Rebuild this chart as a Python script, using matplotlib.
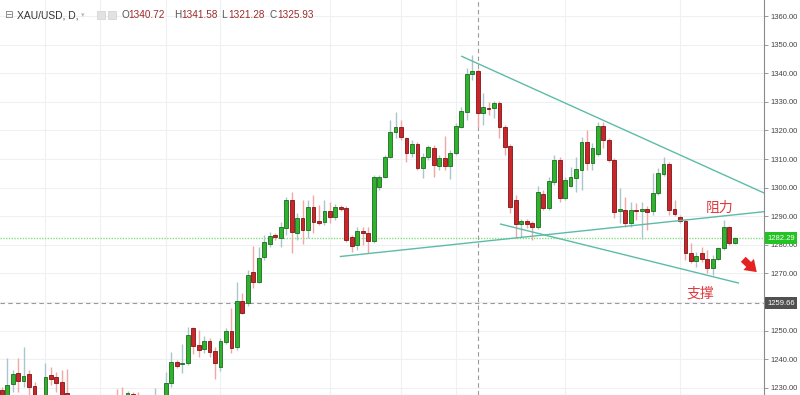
import numpy as np
import matplotlib.pyplot as plt
from matplotlib.patches import Rectangle

plt.rcParams['font.family'] = ['Liberation Sans', 'DejaVu Sans']

# daily XAU/USD bars (left part below 1228 is off-screen)
opens = [1229.2, 1225.7, 1231.3, 1235.2, 1232.4, 1234.8, 1230.6, 1224.0, 1225.7, 1234.5,
         1233.8, 1232.0, 1228.2, 1225.0, 1221.0, 1224.0, 1220.5, 1218.0, 1221.5, 1224.5,
         1222.0, 1226.5, 1226.8, 1223.5, 1227.8, 1226.0, 1222.5, 1224.5, 1221.5, 1226.0,
         1226.4, 1231.7, 1239.0, 1238.2, 1238.7, 1250.9, 1245.0, 1243.6, 1246.4, 1242.9,
         1237.3, 1246.0, 1249.9, 1244.3, 1260.3, 1259.6, 1270.5, 1267.0, 1275.7, 1280.3,
         1283.4, 1282.4, 1285.9, 1295.7, 1284.1, 1289.4, 1285.2, 1293.2, 1288.3, 1288.0,
         1291.8, 1289.7, 1293.2, 1292.9, 1282.7, 1279.9, 1284.8, 1284.1, 1281.3, 1300.2,
         1303.7, 1310.7, 1319.4, 1321.2, 1317.3, 1312.1, 1315.2, 1306.9, 1310.7, 1313.8,
         1307.5, 1310.3, 1307.5, 1312.1, 1321.2, 1326.4, 1339.7, 1340.72, 1326.1, 1327.8,
         1327.8, 1329.6, 1321.2, 1314.5, 1295.7, 1287.3, 1288.3, 1287.6, 1286.2, 1297.8,
         1292.9, 1302.0, 1309.6, 1296.4, 1300.6, 1303.4, 1306.2, 1316.0, 1308.6, 1311.7,
         1321.5, 1316.6, 1309.6, 1291.8, 1292.2, 1287.6, 1292.2, 1291.8, 1292.5, 1291.8,
         1298.1, 1304.8, 1308.2, 1292.5, 1289.7, 1288.3, 1277.1, 1274.3, 1277.1, 1275.0,
         1271.9, 1275.0, 1278.9, 1286.2, 1280.6]
highs = [1230.3, 1240.4, 1236.2, 1240.4, 1244.3, 1236.2, 1232.0, 1227.1, 1238.7, 1237.3,
         1235.5, 1236.2, 1236.6, 1226.5, 1225.5, 1226.0, 1224.0, 1223.0, 1226.0, 1226.5,
         1226.0, 1229.6, 1230.3, 1229.0, 1228.5, 1228.5, 1226.0, 1226.5, 1229.9, 1227.0,
         1235.5, 1242.5, 1239.7, 1245.3, 1251.3, 1251.3, 1250.2, 1248.1, 1247.4, 1244.3,
         1247.4, 1250.9, 1257.9, 1267.0, 1263.1, 1271.2, 1279.6, 1279.2, 1283.4, 1284.5,
         1284.1, 1288.0, 1296.7, 1298.5, 1291.1, 1295.7, 1295.7, 1297.4, 1293.9, 1295.7,
         1295.0, 1294.3, 1293.9, 1293.6, 1283.4, 1286.2, 1286.2, 1286.2, 1304.4, 1304.4,
         1311.4, 1323.6, 1326.4, 1323.6, 1317.7, 1316.6, 1315.9, 1312.1, 1314.9, 1314.9,
         1311.4, 1318.0, 1313.1, 1322.6, 1328.2, 1341.8, 1346.4, 1341.58, 1333.1, 1329.9,
         1330.3, 1330.3, 1321.9, 1315.2, 1297.4, 1289.0, 1289.0, 1288.3, 1300.6, 1299.2,
         1303.7, 1311.4, 1310.7, 1303.7, 1307.2, 1310.7, 1317.7, 1320.1, 1315.6, 1322.9,
         1322.9, 1317.3, 1310.3, 1299.9, 1296.7, 1295.0, 1294.6, 1295.0, 1293.6, 1305.1,
         1306.9, 1310.7, 1309.0, 1295.7, 1290.4, 1289.0, 1280.6, 1277.5, 1279.2, 1278.2,
         1276.4, 1279.2, 1288.7, 1286.6, 1282.7]
lows = [1224.0, 1224.0, 1228.5, 1228.5, 1230.3, 1227.5, 1224.0, 1222.2, 1224.0, 1231.0,
        1228.5, 1225.0, 1222.2, 1219.5, 1218.0, 1219.0, 1216.5, 1215.0, 1219.0, 1220.0,
        1219.5, 1221.0, 1220.0, 1221.5, 1221.0, 1220.0, 1219.0, 1220.5, 1219.0, 1221.0,
        1222.0, 1230.3, 1236.9, 1235.2, 1238.0, 1241.8, 1240.8, 1242.2, 1240.8, 1233.1,
        1235.9, 1245.3, 1242.2, 1243.2, 1255.8, 1258.6, 1264.9, 1266.6, 1274.7, 1279.2,
        1281.7, 1279.2, 1283.4, 1277.1, 1281.7, 1280.3, 1282.4, 1284.1, 1286.9, 1286.9,
        1287.6, 1288.7, 1291.8, 1281.0, 1277.5, 1278.2, 1279.9, 1277.1, 1280.6, 1299.2,
        1303.4, 1310.3, 1317.3, 1316.6, 1309.0, 1310.7, 1306.2, 1303.4, 1309.6, 1303.7,
        1306.2, 1306.2, 1303.0, 1311.4, 1320.8, 1323.6, 1337.6, 1321.28, 1321.9, 1325.4,
        1324.3, 1317.3, 1311.4, 1291.1, 1282.4, 1282.7, 1285.9, 1281.7, 1285.5, 1292.2,
        1292.2, 1300.9, 1295.0, 1295.7, 1300.2, 1298.5, 1299.2, 1306.2, 1306.2, 1311.0,
        1313.8, 1309.0, 1289.4, 1287.6, 1286.2, 1286.2, 1288.7, 1282.0, 1285.2, 1290.4,
        1297.4, 1304.1, 1290.4, 1290.1, 1287.6, 1274.7, 1273.6, 1272.2, 1274.0, 1270.1,
        1269.4, 1274.7, 1278.2, 1279.9, 1280.3]
closes = [1225.7, 1231.0, 1234.8, 1232.4, 1234.1, 1230.3, 1226.4, 1226.4, 1233.8, 1233.1,
          1231.7, 1226.4, 1225.0, 1221.0, 1224.0, 1220.5, 1218.0, 1221.5, 1224.5, 1222.0,
          1225.0, 1223.5, 1223.0, 1228.2, 1224.0, 1222.5, 1224.5, 1221.5, 1226.0, 1226.4,
          1231.7, 1239.0, 1237.6, 1238.3, 1248.5, 1244.6, 1243.2, 1246.4, 1242.5, 1238.7,
          1246.4, 1249.9, 1243.9, 1260.3, 1256.1, 1269.4, 1267.0, 1275.4, 1281.0, 1283.1,
          1282.7, 1286.2, 1295.7, 1284.5, 1289.4, 1285.2, 1293.2, 1288.0, 1287.6, 1291.8,
          1289.7, 1293.2, 1292.5, 1281.7, 1279.6, 1284.8, 1284.1, 1281.3, 1303.7, 1303.7,
          1310.7, 1319.4, 1321.2, 1317.7, 1312.1, 1315.2, 1306.9, 1310.7, 1314.2, 1307.9,
          1310.3, 1307.5, 1312.1, 1321.5, 1326.8, 1339.7, 1340.8, 1325.93, 1328.2, 1327.5,
          1329.6, 1321.2, 1314.2, 1293.2, 1287.3, 1288.3, 1287.3, 1286.2, 1298.5, 1292.9,
          1302.3, 1309.6, 1296.4, 1302.7, 1303.7, 1306.5, 1316.0, 1308.6, 1313.8, 1321.5,
          1316.6, 1309.6, 1291.5, 1292.5, 1287.6, 1292.2, 1291.8, 1292.5, 1291.5, 1298.1,
          1305.1, 1308.2, 1292.2, 1290.8, 1288.3, 1277.1, 1274.3, 1276.1, 1275.0, 1271.9,
          1275.0, 1278.9, 1286.2, 1280.6, 1282.29]

price_ticks = list(range(1230, 1361, 10))
last_price = 1282.29
cross_price = 1259.66
cross_bar = 87
date_grid = [8, 18, 30, 40, 60, 73, 83, 103, 124]

# hand-drawn trend lines (bar index, price)
upper_x, upper_y = [84.0, 139.4], [1346.0, 1298.1]
resist_x, resist_y = [61.8, 139.4], [1275.9, 1291.6]
support_x, support_y = [91.1, 134.8], [1287.3, 1266.6]

symbol = "XAU/USD, D,"
ohlc_keys = ["O", "H", "L", "C"]
ohlc_vals = ["1340.72", "1341.58", "1321.28", "1325.93"]

fig = plt.figure(figsize=(8, 3.95), dpi=100)
ax = fig.add_axes([0, 0, 764 / 800, 1])

x = np.arange(len(opens))
o, h, l, c = (np.array(a) for a in (opens, highs, lows, closes))
up = c >= o

ax.vlines(x, l, h, colors=['#aac6cc' if u else '#f2a6a6' for u in up], lw=1, zorder=2)
ax.bar(x, np.maximum(np.abs(c - o), 0.35), bottom=np.minimum(o, c), width=0.7,
       color=['#2fb32f' if u else '#c9252b' for u in up],
       edgecolor=['#1d6b1d' if u else '#7d1515' for u in up], lw=0.6, zorder=3)

teal = '#5dbba7'
for lx, ly in [(upper_x, upper_y), (resist_x, resist_y), (support_x, support_y)]:
    ax.plot(lx, ly, color=teal, lw=1, zorder=4, solid_capstyle='butt')

ax.axhline(last_price, color='#86dd86', lw=1, ls=(0, (1, 1)), zorder=1.5)
ax.axhline(cross_price, color='#9a9a9a', lw=0.8, ls=(0, (4, 3)), zorder=1.5)
ax.axvline(cross_bar, color='#9a9a9a', lw=0.8, ls=(0, (4, 3)), zorder=1.5)

ax.set_xlim(-0.31, 139.36)
ax.set_ylim(1227.5, 1365.6)

ax.yaxis.tick_right()
ax.set_yticks(price_ticks)
# 1260.00 sits under the crosshair price box
ax.set_yticklabels(['' if v == 1260 else f'{v:.2f}' for v in price_ticks])
ax.tick_params(axis='y', length=3, width=0.6, color='#888888', labelsize=5.5,
               labelcolor='#444444', pad=1.5)
ax.set_xticks(date_grid)
ax.tick_params(axis='x', length=0, labelbottom=False)
ax.grid(True, color='#eef0f4', lw=0.8, zorder=0)
ax.set_axisbelow(True)
for s in ['top', 'left', 'bottom']:
    ax.spines[s].set_visible(False)
ax.spines['right'].set_color('#8a8a8a')
ax.spines['right'].set_linewidth(0.8)

ytr = ax.get_yaxis_transform()
ax.text(1.004, last_price, f'{last_price:.2f}', transform=ytr, ha='left', va='center',
        fontsize=5.5, color='white', clip_on=False, zorder=10,
        bbox=dict(boxstyle='square,pad=0.3', fc='#22c322', ec='none'))
ax.text(1.004, cross_price, f'{cross_price:.2f}', transform=ytr, ha='left', va='center',
        fontsize=5.5, color='white', clip_on=False, zorder=10,
        bbox=dict(boxstyle='square,pad=0.3', fc='#505050', ec='none'))

# annotations
ax.text(131.3, 1292.9, '阻力', family=['Noto Sans CJK SC', 'DejaVu Sans'], fontsize=10,
        color='#e0393e', ha='center', va='center', zorder=6)
ax.text(127.8, 1262.8, '支撑', family=['Noto Sans CJK SC', 'DejaVu Sans'], fontsize=10,
        color='#e0393e', ha='center', va='center', zorder=6)
ax.annotate('', xy=(138.4, 1269.8), xytext=(135.2, 1275.6),
            arrowprops=dict(arrowstyle='simple,head_length=0.8,head_width=1.1,tail_width=0.5',
                            fc='#e52222', ec='none', mutation_scale=10), zorder=6)

# header line
ty = 1 - 15 / 395
fig.text(4 / 800, ty, '⊟', fontsize=7.5, color='#777777', va='center', family=['DejaVu Sans'])
fig.text(17 / 800, ty, symbol, fontsize=7.4, color='#333333', va='center')
fig.text(81 / 800, ty, '▾', fontsize=5, color='#bbbbbb', va='center', family=['DejaVu Sans'])
for px in (97, 108):
    fig.patches.append(Rectangle((px / 800, 1 - 19 / 395), 8 / 800, 8 / 395,
                                 transform=fig.transFigure, fc='#e2e2e2', ec='#d0d0d0', lw=0.5))
for k, v, px in zip(ohlc_keys, ohlc_vals, [121, 174, 221, 270]):
    fig.text(px / 800, ty, k, fontsize=7.2, color='#555555', va='center')
    fig.text((px + 7.5) / 800, ty, v, fontsize=7.2, color='#9c2b2b', va='center')

fig.savefig('out.png', dpi=100, facecolor='white')
